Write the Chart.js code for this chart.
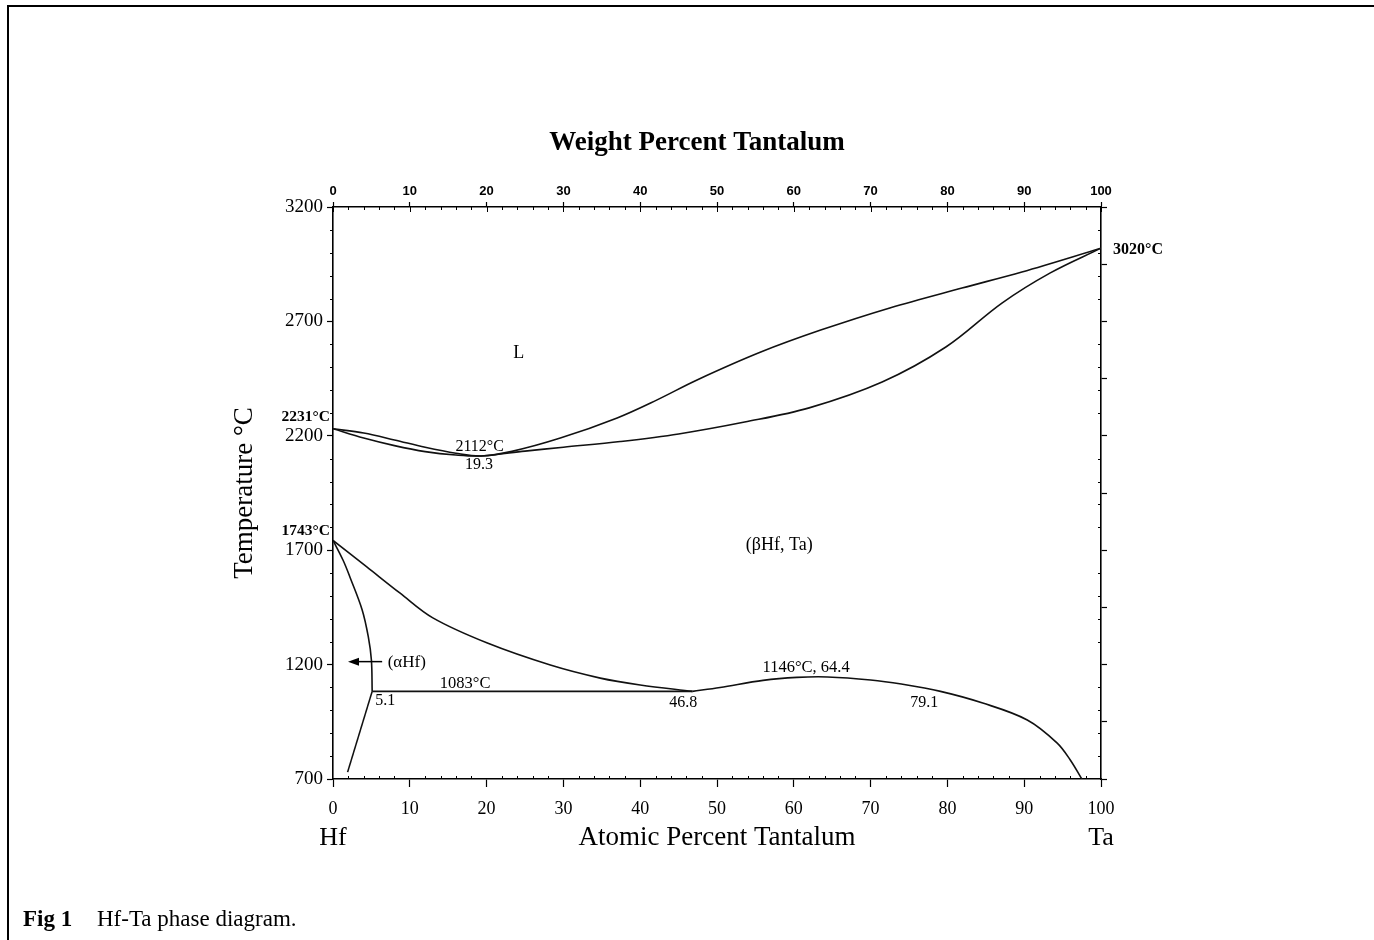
<!DOCTYPE html>
<html lang="en">
<head>
<meta charset="UTF-8">
<title>Hf-Ta phase diagram</title>
<script src="https://cdn.jsdelivr.net/npm/chart.js"></script>
<style>
  html, body { margin: 0; padding: 0; background: #fff; }
  canvas { display: block; }
</style>
</head>
<body>
<canvas id="phaseChart" width="1374" height="940"></canvas>
<script>
// phase boundaries, [atomic % Ta, temperature °C]
const liquidus = [[0,2231],[4,2212],[8,2182],[12,2150],[16,2124],[19.3,2112],[23.3,2132],[29.6,2190],[37,2278],[42.2,2357],[47.4,2444],[55.7,2566],[63.5,2662],[72.5,2759],[81.9,2846],[89.7,2916],[100,3020]];
const solidus = [[0,2231],[4,2190],[8,2157],[12,2131],[16,2116],[19.3,2112],[25,2133],[30,2150],[37.4,2175],[45,2208],[53.6,2260],[62,2322],[71.5,2435],[79.8,2588],[87.1,2780],[93.4,2912],[100,3020]];
const betaTransus = [[0,1743],[1.3,1657],[2.2,1583],[3.8,1439],[4.6,1321],[5.0,1220],[5.1,1083]];
const alphaSolvus = [[5.1,1083],[1.9,730]];
const betaBoundary = [[0,1743],[4.4,1627],[8.7,1513],[13,1404],[20.1,1294],[28.3,1198],[34.8,1141],[40,1111],[46.8,1083]];
const monotectoid = [[5.1,1083],[46.8,1083]];
const gapDome = [[46.8,1083],[50.4,1100],[56,1131],[60.4,1144],[64.4,1146],[70,1133],[74,1115],[79.1,1083],[84.6,1032],[90.4,958],[94.3,857],[96,783],[97.5,700]];

// axis ticks
const atomicTicks = [0,10,20,30,40,50,60,70,80,90,100];
const weightTicks = [0,10,20,30,40,50,60,70,80,90,100];
const tempTicks = [700,1200,1700,2200,2700,3200];
const rightTicks = [700,950,1200,1450,1700,1950,2200,2450,2700,2950,3200];

// text in the diagram, placed in data units
const notes = [
  { text: 'L', at: 24.2, t: 2562, size: 18 },
  { text: '2112°C', at: 19.1, t: 2153, size: 16 },
  { text: '19.3', at: 19.0, t: 2073, size: 16 },
  { text: '(βHf, Ta)', at: 58.1, t: 1723, size: 18 },
  { text: '(αHf)', at: 9.6, t: 1209, size: 17 },
  { text: '1083°C', at: 17.2, t: 1118, size: 16.5 },
  { text: '5.1', at: 6.8, t: 1043, size: 16 },
  { text: '46.8', at: 45.6, t: 1035, size: 16 },
  { text: '1146°C, 64.4', at: 61.6, t: 1185, size: 16.5 },
  { text: '79.1', at: 77.0, t: 1035, size: 16 }
];
const arrowFrom = [6.4, 1213];
const arrowTo = [1.95, 1213];

const SERIF = '"Liberation Serif", "Times New Roman", serif';
const SANS = '"Liberation Sans", Arial, sans-serif';

const toXY = pts => pts.map(p => ({ x: p[0], y: p[1] }));

function curve(data, smooth) {
  return {
    data: toXY(data),
    showLine: true,
    borderColor: '#111',
    borderWidth: 1.6,
    pointRadius: 0,
    tension: smooth ? 0.35 : 0
  };
}

const decor = {
  id: 'decor',
  beforeDraw(chart) {
    const c = chart.ctx;
    c.save();
    c.fillStyle = '#fff';
    c.fillRect(0, 0, chart.width, chart.height);
    c.strokeStyle = '#000';
    c.lineWidth = 2;
    c.beginPath();
    c.moveTo(8, chart.height);
    c.lineTo(8, 6);
    c.lineTo(chart.width, 6);
    c.stroke();
    c.restore();
  },
  afterDraw(chart) {
    const c = chart.ctx;
    const { x, x2, y } = chart.scales;
    const area = chart.chartArea;
    c.save();
    c.strokeStyle = '#000';
    c.lineWidth = 1;

    // minor ticks
    c.beginPath();
    for (let v = 0; v <= 100; v += 2) {
      const px = Math.round(x.getPixelForValue(v)) + 0.5;
      const major = v % 10 === 0;
      if (!major) { c.moveTo(px, area.bottom); c.lineTo(px, area.bottom - 3); }
      const qx = Math.round(x2.getPixelForValue(v)) + 0.5;
      c.moveTo(qx, area.top);
      c.lineTo(qx, area.top + (major ? 5 : 3));
    }
    for (let t = 800; t < 3200; t += 100) {
      if ((t - 700) % 500 === 0) continue;
      const py = Math.round(y.getPixelForValue(t)) + 0.5;
      c.moveTo(area.left, py); c.lineTo(area.left - 3, py);
      c.moveTo(area.right, py); c.lineTo(area.right - 3, py);
    }
    c.stroke();

    // labels inside the plot
    c.fillStyle = '#000';
    c.textAlign = 'center';
    c.textBaseline = 'middle';
    notes.forEach(n => {
      c.font = n.size + 'px ' + SERIF;
      c.fillText(n.text, x.getPixelForValue(n.at), y.getPixelForValue(n.t));
    });

    // arrow toward the (αHf) field
    const ax0 = x.getPixelForValue(arrowFrom[0]), ay = y.getPixelForValue(arrowFrom[1]);
    const ax1 = x.getPixelForValue(arrowTo[0]);
    c.lineWidth = 1.5;
    c.beginPath();
    c.moveTo(ax0, ay); c.lineTo(ax1 + 8, ay);
    c.stroke();
    c.beginPath();
    c.moveTo(ax1, ay); c.lineTo(ax1 + 11, ay - 4); c.lineTo(ax1 + 11, ay + 4);
    c.closePath(); c.fill();

    // melting / transformation points of the pure metals
    c.font = 'bold 15.5px ' + SERIF;
    c.textAlign = 'right';
    c.fillText('2231°C', area.left - 3, y.getPixelForValue(2231) - 12);
    c.fillText('1743°C', area.left - 3, y.getPixelForValue(1743) - 9);
    c.font = 'bold 16px ' + SERIF;
    c.textAlign = 'left';
    c.fillText('3020°C', area.right + 12, y.getPixelForValue(3020) + 2);

    // top axis title, set a little left of the plot centre as in the original
    c.font = 'bold 27px ' + SERIF;
    c.textAlign = 'center';
    c.fillText('Weight Percent Tantalum', 697, 143);

    // element names under the axis
    c.font = '26px ' + SERIF;
    c.fillText('Hf', x.getPixelForValue(0), 838);
    c.fillText('Ta', x.getPixelForValue(100), 838);

    // caption
    c.textAlign = 'left';
    c.font = 'bold 23px ' + SERIF;
    c.fillText('Fig 1', 23, 920);
    c.font = '23px ' + SERIF;
    c.fillText('Hf-Ta phase diagram.', 97, 920);
    c.restore();
  }
};

const axisGrid = len => ({ drawOnChartArea: false, color: '#000', tickLength: len, tickWidth: 1.2 });
const axisBorder = { color: '#000', width: 1.6 };
const plain = v => String(v);

new Chart(document.getElementById('phaseChart'), {
  type: 'scatter',
  data: {
    datasets: [
      curve(liquidus, true),
      curve(solidus, true),
      curve(betaTransus, true),
      curve(alphaSolvus, false),
      curve(betaBoundary, true),
      curve(monotectoid, false),
      curve(gapDome, true)
    ]
  },
  options: {
    responsive: false,
    animation: false,
    devicePixelRatio: 1,
    layout: { padding: 0 },
    plugins: { legend: { display: false }, tooltip: { enabled: false } },
    scales: {
      x: {
        type: 'linear', position: 'bottom', min: 0, max: 100,
        afterBuildTicks: s => { s.ticks = atomicTicks.map(v => ({ value: v })); },
        afterFit: s => { s.height = 161; },
        ticks: { color: '#000', font: { family: SERIF, size: 18 }, padding: 11, maxRotation: 0, callback: plain },
        grid: axisGrid(8),
        border: axisBorder,
        title: { display: true, text: 'Atomic Percent Tantalum', color: '#000',
                 font: { family: SERIF, size: 27 }, padding: { bottom: 86 } }
      },
      x2: {
        type: 'linear', position: 'top', min: 0, max: 100,
        afterBuildTicks: s => { s.ticks = weightTicks.map(v => ({ value: v })); },
        afterFit: s => { s.height = 207; },
        ticks: { color: '#000', font: { family: SANS, size: 13, weight: 'bold' }, padding: 3, maxRotation: 0, callback: plain },
        grid: axisGrid(5),
        border: axisBorder
      },
      y: {
        type: 'linear', position: 'left', min: 700, max: 3200,
        afterBuildTicks: s => { s.ticks = tempTicks.map(v => ({ value: v })); },
        afterFit: s => { s.width = 333; },
        ticks: { color: '#000', font: { family: SERIF, size: 19 }, padding: 4, callback: plain },
        grid: axisGrid(6),
        border: axisBorder,
        title: { display: true, text: 'Temperature °C', color: '#000',
                 font: { family: SERIF, size: 27 }, padding: { top: 229 } }
      },
      y2: {
        type: 'linear', position: 'right', min: 700, max: 3200,
        afterBuildTicks: s => { s.ticks = rightTicks.map(v => ({ value: v })); },
        afterFit: s => { s.width = 273; },
        ticks: { display: false },
        grid: axisGrid(6),
        border: axisBorder
      }
    }
  },
  plugins: [decor]
});
</script>
</body>
</html>
